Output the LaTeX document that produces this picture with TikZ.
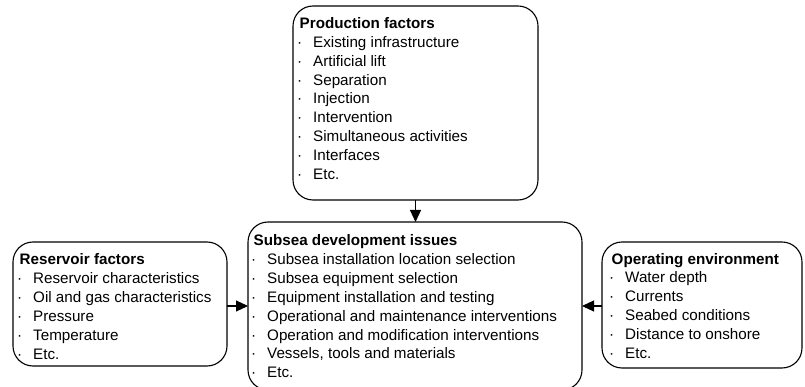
\documentclass[tikz,border=0pt]{standalone}
\usepackage{fontspec}
\setmainfont{Liberation Sans}
\usetikzlibrary{arrows.meta}
\newcommand{\itm}[1]{\makebox[16pt][l]{·}#1\\}
\newcommand{\ttl}[1]{\hspace*{2.5pt}\textbf{#1}\\}
\begin{document}
\begin{tikzpicture}[x=1pt,y=-1pt,
 box/.style={draw, line width=1.1pt, rounded corners=20pt, inner sep=0pt, outer sep=0pt},
 txt/.style={anchor=base west, inner sep=0pt, font=\fontsize{15.2}{18.9}\selectfont},
 arr/.style={line width=1.1pt, -{Triangle[length=12pt,width=11pt]}}]
\useasboundingbox (0,0) rectangle (805,387);
\node[box, minimum width=245pt, minimum height=194pt] (prod) at (415.5,103) {};
\node[box, minimum width=334pt, minimum height=168pt] (sub) at (415,306) {};
\node[box, minimum width=214pt, minimum height=124pt] (res) at (120,304) {};
\node[box, minimum width=200pt, minimum height=126pt] (env) at (702,305) {};
\node[txt] (prodt) at (297,28.4) {\begin{tabular}[t]{@{}l@{}}\ttl{Production factors}\itm{Existing infrastructure}\itm{Artificial lift}\itm{Separation}\itm{Injection}\itm{Intervention}\itm{Simultaneous activities}\itm{Interfaces}\itm{Etc.}\end{tabular}};
\node[txt] (subt) at (251,245.5) {\begin{tabular}[t]{@{}l@{}}\ttl{Subsea development issues}\itm{Subsea installation location selection}\itm{Subsea equipment selection}\itm{Equipment installation and testing}\itm{Operational and maintenance interventions}\itm{Operation and modification interventions}\itm{Vessels, tools and materials}\itm{Etc.}\end{tabular}};
\node[txt] (rest) at (17,264.5) {\begin{tabular}[t]{@{}l@{}}\ttl{Reservoir factors}\itm{Reservoir characteristics}\itm{Oil and gas characteristics}\itm{Pressure}\itm{Temperature}\itm{Etc.}\end{tabular}};
\node[txt] (envt) at (609,264) {\begin{tabular}[t]{@{}l@{}}\ttl{Operating environment}\itm{Water depth}\itm{Currents}\itm{Seabed conditions}\itm{Distance to onshore}\itm{Etc.}\end{tabular}};
\draw[arr] (prod.south) -- (prod.south |- sub.north);
\draw[arr] (res.east |- sub.west) -- (sub.west);
\draw[arr] (env.west |- sub.east) -- (sub.east);
\end{tikzpicture}
\end{document}
